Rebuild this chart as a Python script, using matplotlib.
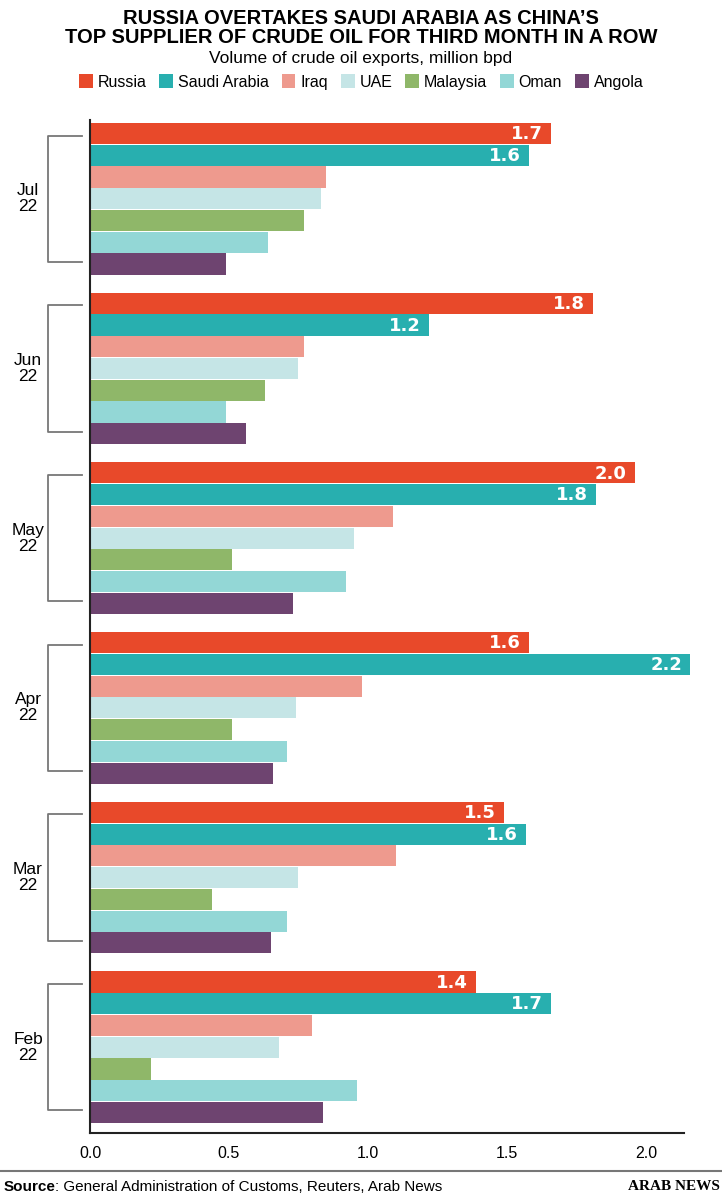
import matplotlib.pyplot as plt
import numpy as np
from matplotlib.patches import Patch

plt.rcParams['font.family'] = ['Liberation Sans', 'DejaVu Sans']

months = ['Jul\n22', 'Jun\n22', 'May\n22', 'Apr\n22', 'Mar\n22', 'Feb\n22']
countries = ['Russia', 'Saudi Arabia', 'Iraq', 'UAE', 'Malaysia', 'Oman', 'Angola']
colors = ['#E8492A', '#28AFAF', '#EE9A8E', '#C5E5E6', '#8FB769', '#93D7D6', '#6E4470']

# million bpd, per month (Jul .. Feb)
russia = [1.66, 1.81, 1.96, 1.58, 1.49, 1.39]
saudi = [1.58, 1.22, 1.82, 2.16, 1.57, 1.66]
iraq = [0.85, 0.77, 1.09, 0.98, 1.10, 0.80]
uae = [0.83, 0.75, 0.95, 0.74, 0.75, 0.68]
malaysia = [0.77, 0.63, 0.51, 0.51, 0.44, 0.22]
oman = [0.64, 0.49, 0.92, 0.71, 0.71, 0.96]
angola = [0.49, 0.56, 0.73, 0.66, 0.65, 0.84]

series = [russia, saudi, iraq, uae, malaysia, oman, angola]
labelled = [0, 1]  # Russia and Saudi Arabia get value labels

fig = plt.figure(figsize=(7.22, 12), dpi=100)
ax = fig.add_axes([90 / 722, 1 - 1133 / 1200, (684 - 90) / 722, (1133 - 120) / 1200])

pitch = 7.8
for g in range(len(months)):
    for i, vals in enumerate(series):
        y = g * pitch + i
        ax.barh(y, vals[g], height=0.97, color=colors[i], clip_on=False)
        if i in labelled:
            ax.text(vals[g] - 0.03, y + 0.03, f'{vals[g]:.1f}', ha='right', va='center',
                    color='white', fontsize=13, fontweight='bold', family='DejaVu Sans')

ax.set_ylim(45.94, -0.62)
ax.set_xlim(0, 2.137)
ax.set_yticks([])
ax.set_xticks([0, 0.5, 1.0, 1.5, 2.0])
ax.set_xticklabels(['0.0', '0.5', '1.0', '1.5', '2.0'])
ax.tick_params(axis='x', length=0, labelsize=11.5, pad=9)
for s in ['top', 'right']:
    ax.spines[s].set_visible(False)
for s in ['left', 'bottom']:
    ax.spines[s].set_color('#222222')
    ax.spines[s].set_linewidth(1.5)

# brackets and month labels
for g, m in enumerate(months):
    y0 = g * pitch + 0.1
    y1 = g * pitch + 5.9
    bx0, bx1 = -42 / 278, -8 / 278
    ax.plot([bx1, bx0, bx0, bx1], [y0, y0, y1, y1], color='#777777', lw=1.3, clip_on=False)
    ax.text(-62 / 278, (y0 + y1) / 2, m, ha='center', va='center', fontsize=12.5,
            linespacing=1.1, clip_on=False)

fig.text(0.5, 1 - 28 / 1200, "RUSSIA OVERTAKES SAUDI ARABIA AS CHINA’S\nTOP SUPPLIER OF CRUDE OIL FOR THIRD MONTH IN A ROW",
         ha='center', va='center', fontsize=14.5, fontweight='bold', linespacing=1.0)
fig.text(0.5, 1 - 59 / 1200, 'Volume of crude oil exports, million bpd', ha='center', va='center', fontsize=12.5)

handles = [Patch(facecolor=c, label=n) for c, n in zip(colors, countries)]
fig.legend(handles=handles, loc='center', bbox_to_anchor=(0.5, 1 - 82 / 1200), ncol=7, frameon=False,
           fontsize=11.5, handlelength=0.875, handleheight=0.95, handletextpad=0.3, columnspacing=0.8)

fig.add_artist(plt.Line2D([0, 1], [1 - 1171 / 1200] * 2, color='#777777', lw=1.5))
t = fig.text(0.005, 1 - 1187 / 1200, 'Source', ha='left', va='center', fontsize=11, fontweight='bold')
fig.canvas.draw()
bb = t.get_window_extent()
fig.text(bb.x1 / fig.dpi / 7.22, 1 - 1187 / 1200, ': General Administration of Customs, Reuters, Arab News',
         ha='left', va='center', fontsize=11)
fig.text(0.997, 1 - 1187 / 1200, 'ARAB NEWS', ha='right', va='center', fontsize=11,
         family='Liberation Serif', fontweight='bold')

fig.savefig('out.png', dpi=100)
